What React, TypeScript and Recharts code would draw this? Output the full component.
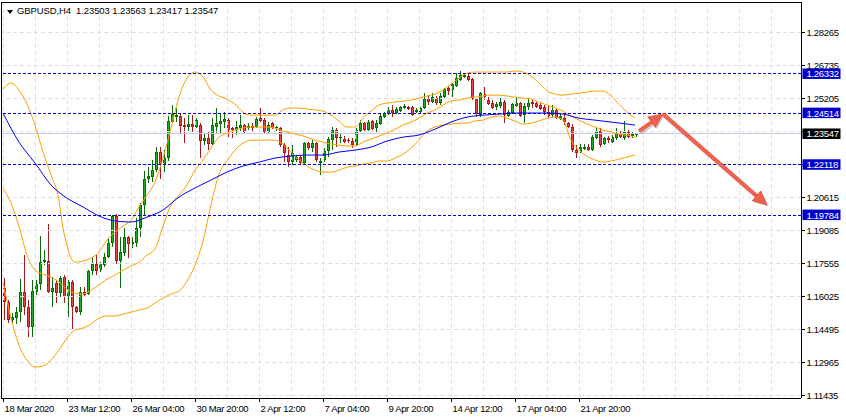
import React from 'react';
import { ComposedChart, Bar, Line, XAxis, YAxis, ReferenceLine } from 'recharts';

// GBPUSD H4 candles, one entry per bar
const opens = [
  1.1640, 1.1575, 1.1491, 1.1500, 1.1528, 1.1621, 1.1552, 1.1459, 1.1621, 1.1658,
  1.1760, 1.1765, 1.1621, 1.1663, 1.1616, 1.1691, 1.1598, 1.1668, 1.1552, 1.1528,
  1.1621, 1.1612, 1.1719, 1.1751, 1.1723, 1.1746, 1.1784, 1.1848, 1.1974, 1.1765,
  1.1802, 1.1876, 1.1844, 1.1848, 1.1918, 1.2025, 1.2145, 1.2155, 1.2187, 1.2271,
  1.2215, 1.2243, 1.2410, 1.2433, 1.2438, 1.2396, 1.2387, 1.2401, 1.2387, 1.2396,
  1.2322, 1.2336, 1.2308, 1.2387, 1.2401, 1.2410, 1.2419, 1.2382, 1.2373, 1.2382,
  1.2396, 1.2382, 1.2391, 1.2387, 1.2428, 1.2419, 1.2364, 1.2405, 1.2382, 1.2382,
  1.2303, 1.2257, 1.2224, 1.2234, 1.2248, 1.2220, 1.2312, 1.2289, 1.2312, 1.2220,
  1.2234, 1.2275, 1.2326, 1.2373, 1.2336, 1.2331, 1.2326, 1.2322, 1.2303, 1.2368,
  1.2405, 1.2373, 1.2415, 1.2382, 1.2401, 1.2433, 1.2447, 1.2466, 1.2452, 1.2461,
  1.2475, 1.2480, 1.2480, 1.2456, 1.2456, 1.2475, 1.2517, 1.2503, 1.2521, 1.2498,
  1.2526, 1.2568, 1.2558, 1.2577, 1.2605, 1.2619, 1.2623, 1.2609, 1.2517, 1.2442,
  1.2540, 1.2512, 1.2498, 1.2480, 1.2484, 1.2503, 1.2438, 1.2452, 1.2484, 1.2498,
  1.2442, 1.2480, 1.2503, 1.2498, 1.2489, 1.2480, 1.2456, 1.2442, 1.2466, 1.2424,
  1.2428, 1.2405, 1.2387, 1.2280, 1.2271, 1.2285, 1.2294, 1.2280, 1.2336, 1.2368,
  1.2308, 1.2336, 1.2317, 1.2336, 1.2359, 1.2336, 1.2364, 1.2345, 1.23503,
];
const highs = [
  1.1686, 1.1584, 1.1524, 1.1552, 1.1681, 1.1793, 1.1584, 1.1677, 1.1677, 1.1881,
  1.1816, 1.1937, 1.1691, 1.1677, 1.1695, 1.1700, 1.1677, 1.1677, 1.1556, 1.1644,
  1.1644, 1.1723, 1.1784, 1.1793, 1.1760, 1.1802, 1.1872, 1.1978, 1.1983, 1.1876,
  1.1918, 1.1881, 1.1876, 1.1964, 1.2034, 1.2182, 1.2201, 1.2234, 1.2294, 1.2294,
  1.2280, 1.2438, 1.2489, 1.2475, 1.2452, 1.2428, 1.2442, 1.2442, 1.2428, 1.2405,
  1.2359, 1.2364, 1.2428, 1.2475, 1.2452, 1.2456, 1.2428, 1.2387, 1.2415, 1.2442,
  1.2401, 1.2405, 1.2405, 1.2433, 1.2475, 1.2428, 1.2410, 1.2410, 1.2391, 1.2387,
  1.2312, 1.2294, 1.2303, 1.2257, 1.2257, 1.2317, 1.2317, 1.2326, 1.2317, 1.2243,
  1.2289, 1.2340, 1.2387, 1.2382, 1.2359, 1.2345, 1.2336, 1.2336, 1.2382, 1.2419,
  1.2410, 1.2419, 1.2419, 1.2419, 1.2452, 1.2456, 1.2480, 1.2489, 1.2480, 1.2484,
  1.2493, 1.2484, 1.2484, 1.2475, 1.2480, 1.2544, 1.2535, 1.2544, 1.2531, 1.2544,
  1.2568, 1.2577, 1.2591, 1.2637, 1.2647, 1.2637, 1.2633, 1.2614, 1.2521, 1.2549,
  1.2572, 1.2526, 1.2512, 1.2503, 1.2521, 1.2512, 1.2466, 1.2498, 1.2526, 1.2503,
  1.2498, 1.2517, 1.2521, 1.2503, 1.2498, 1.2489, 1.2489, 1.2489, 1.2475, 1.2447,
  1.2442, 1.2410, 1.2401, 1.2303, 1.2308, 1.2308, 1.2308, 1.2350, 1.2387, 1.2382,
  1.2340, 1.2345, 1.2350, 1.2382, 1.2368, 1.2415, 1.2373, 1.2364, 1.23563,
];
const lows = [
  1.1491, 1.1477, 1.1477, 1.1473, 1.1482, 1.1514, 1.1412, 1.1412, 1.1607, 1.1630,
  1.1746, 1.1616, 1.1552, 1.1570, 1.1598, 1.1570, 1.1505, 1.1445, 1.1524, 1.1514,
  1.1598, 1.1607, 1.1700, 1.1700, 1.1714, 1.1737, 1.1779, 1.1830, 1.1751, 1.1640,
  1.1788, 1.1779, 1.1825, 1.1830, 1.1876, 1.1978, 1.2127, 1.2132, 1.2178, 1.2145,
  1.2178, 1.2229, 1.2405, 1.2410, 1.2359, 1.2312, 1.2364, 1.2364, 1.2382, 1.2243,
  1.2303, 1.2280, 1.2303, 1.2359, 1.2359, 1.2382, 1.2340, 1.2336, 1.2350, 1.2364,
  1.2359, 1.2373, 1.2368, 1.2382, 1.2410, 1.2359, 1.2354, 1.2377, 1.2368, 1.2294,
  1.2224, 1.2201, 1.2210, 1.2224, 1.2210, 1.2210, 1.2280, 1.2271, 1.2224, 1.2164,
  1.2224, 1.2248, 1.2280, 1.2294, 1.2312, 1.2312, 1.2312, 1.2289, 1.2299, 1.2364,
  1.2368, 1.2368, 1.2373, 1.2364, 1.2396, 1.2428, 1.2442, 1.2433, 1.2447, 1.2456,
  1.2470, 1.2466, 1.2438, 1.2452, 1.2452, 1.2470, 1.2489, 1.2498, 1.2489, 1.2489,
  1.2521, 1.2535, 1.2526, 1.2572, 1.2600, 1.2614, 1.2600, 1.2512, 1.2433, 1.2433,
  1.2512, 1.2489, 1.2470, 1.2466, 1.2475, 1.2405, 1.2433, 1.2447, 1.2480, 1.2433,
  1.2405, 1.2466, 1.2475, 1.2475, 1.2466, 1.2442, 1.2428, 1.2433, 1.2424, 1.2419,
  1.2396, 1.2382, 1.2271, 1.2243, 1.2266, 1.2280, 1.2275, 1.2275, 1.2331, 1.2294,
  1.2303, 1.2312, 1.2312, 1.2326, 1.2336, 1.2326, 1.2336, 1.2336, 1.23417,
];
const closes = [
  1.1575, 1.1491, 1.1505, 1.1528, 1.1621, 1.1552, 1.1459, 1.1626, 1.1658, 1.1760,
  1.1770, 1.1621, 1.1640, 1.1616, 1.1686, 1.1598, 1.1668, 1.1552, 1.1528, 1.1621,
  1.1607, 1.1719, 1.1751, 1.1719, 1.1751, 1.1784, 1.1848, 1.1974, 1.1765, 1.1807,
  1.1876, 1.1844, 1.1853, 1.1918, 1.2025, 1.2145, 1.2159, 1.2187, 1.2271, 1.2210,
  1.2243, 1.2415, 1.2447, 1.2442, 1.2391, 1.2387, 1.2401, 1.2387, 1.2419, 1.2322,
  1.2336, 1.2308, 1.2396, 1.2405, 1.2415, 1.2424, 1.2373, 1.2373, 1.2387, 1.2396,
  1.2364, 1.2391, 1.2382, 1.2424, 1.2415, 1.2364, 1.2396, 1.2382, 1.2387, 1.2303,
  1.2266, 1.2224, 1.2266, 1.2248, 1.2220, 1.2312, 1.2289, 1.2312, 1.2234, 1.2229,
  1.2275, 1.2331, 1.2373, 1.2336, 1.2340, 1.2317, 1.2322, 1.2303, 1.2373, 1.2405,
  1.2373, 1.2410, 1.2377, 1.2405, 1.2438, 1.2452, 1.2466, 1.2452, 1.2470, 1.2480,
  1.2484, 1.2470, 1.2442, 1.2466, 1.2475, 1.2517, 1.2503, 1.2526, 1.2498, 1.2531,
  1.2563, 1.2554, 1.2586, 1.2614, 1.2628, 1.2628, 1.2605, 1.2517, 1.2447, 1.2544,
  1.2526, 1.2493, 1.2475, 1.2493, 1.2503, 1.2442, 1.2456, 1.2493, 1.2498, 1.2438,
  1.2484, 1.2498, 1.2493, 1.2480, 1.2470, 1.2456, 1.2438, 1.2466, 1.2428, 1.2438,
  1.2410, 1.2387, 1.2280, 1.2266, 1.2294, 1.2294, 1.2280, 1.2340, 1.2368, 1.2303,
  1.2336, 1.2326, 1.2340, 1.2359, 1.2340, 1.2364, 1.2340, 1.2354, 1.23547,
];

// Bollinger bands and moving average, read as [bar, price]
const upperBand: [number, number][] = [
  [0, 1.2563], [2, 1.2591], [4, 1.2558], [6, 1.2493], [8, 1.2396], [10, 1.2271], [12, 1.2164],
  [14, 1.2048], [15, 1.1918], [16, 1.1839], [17, 1.1779], [18, 1.1760], [20, 1.1765], [22, 1.1779],
  [24, 1.1807], [26, 1.1862], [28, 1.1900], [30, 1.1927], [32, 1.1955], [34, 1.2016], [36, 1.2071],
  [38, 1.2132], [40, 1.2243], [42, 1.2382], [44, 1.2526], [46, 1.2614], [48, 1.2642], [50, 1.2619],
  [52, 1.2558], [54, 1.2531], [56, 1.2517], [58, 1.2493], [60, 1.2456], [62, 1.2442], [66, 1.2442],
  [68, 1.2442], [70, 1.2466], [72, 1.2475], [74, 1.2475], [76, 1.2470], [78, 1.2466], [80, 1.2461],
  [82, 1.2442], [84, 1.2415], [86, 1.2387], [88, 1.2387], [90, 1.2428], [92, 1.2461], [94, 1.2489],
  [96, 1.2498], [98, 1.2503], [100, 1.2507], [102, 1.2512], [104, 1.2521], [106, 1.2531], [108, 1.2540],
  [110, 1.2558], [112, 1.2586], [114, 1.2614], [116, 1.2637], [118, 1.2642], [122, 1.2642], [126, 1.2642],
  [128, 1.2647], [130, 1.2642], [132, 1.2623], [134, 1.2591], [136, 1.2554], [138, 1.2540], [140, 1.2535],
  [142, 1.2540], [144, 1.2544], [146, 1.2549], [148, 1.2554], [150, 1.2554], [152, 1.2531], [154, 1.2493],
  [156, 1.2456], [158, 1.2428],
];
const middleBand: [number, number][] = [
  [0, 1.2104], [2, 1.2034], [4, 1.1927], [6, 1.1793], [8, 1.1723], [10, 1.1705], [12, 1.1691],
  [14, 1.1668], [16, 1.1635], [18, 1.1616], [20, 1.1612], [22, 1.1630], [24, 1.1654], [26, 1.1681],
  [28, 1.1700], [30, 1.1723], [32, 1.1742], [34, 1.1760], [36, 1.1793], [38, 1.1821], [40, 1.1927],
  [42, 1.2025], [44, 1.2071], [46, 1.2118], [48, 1.2187], [50, 1.2234], [52, 1.2289], [54, 1.2340],
  [56, 1.2359], [58, 1.2373], [60, 1.2382], [62, 1.2387], [66, 1.2387], [68, 1.2382], [70, 1.2368],
  [72, 1.2359], [74, 1.2350], [76, 1.2340], [78, 1.2326], [80, 1.2317], [82, 1.2308], [84, 1.2303],
  [86, 1.2299], [88, 1.2299], [90, 1.2317], [92, 1.2331], [94, 1.2345], [96, 1.2359], [98, 1.2377],
  [100, 1.2396], [102, 1.2410], [104, 1.2428], [106, 1.2452], [108, 1.2466], [110, 1.2489], [112, 1.2507],
  [114, 1.2512], [116, 1.2521], [118, 1.2526], [120, 1.2531], [122, 1.2535], [124, 1.2535], [126, 1.2531],
  [128, 1.2526], [130, 1.2521], [132, 1.2517], [134, 1.2503], [136, 1.2489], [138, 1.2475], [140, 1.2461],
  [142, 1.2438], [144, 1.2419], [146, 1.2401], [148, 1.2387], [150, 1.2373], [152, 1.2364], [154, 1.2354],
  [156, 1.2350], [158, 1.2340],
];
const lowerBand: [number, number][] = [
  [0, 1.1668], [2, 1.1500], [4, 1.1375], [6, 1.1306], [8, 1.1273], [10, 1.1278], [12, 1.1306],
  [14, 1.1352], [16, 1.1408], [18, 1.1445], [20, 1.1454], [22, 1.1473], [24, 1.1500], [26, 1.1510],
  [28, 1.1510], [30, 1.1519], [32, 1.1528], [34, 1.1538], [36, 1.1547], [38, 1.1570], [40, 1.1593],
  [42, 1.1612], [44, 1.1626], [46, 1.1672], [48, 1.1746], [50, 1.1858], [52, 1.2025], [54, 1.2169],
  [56, 1.2229], [58, 1.2280], [60, 1.2312], [62, 1.2326], [68, 1.2326], [70, 1.2308], [72, 1.2271],
  [74, 1.2234], [76, 1.2206], [78, 1.2187], [80, 1.2178], [82, 1.2178], [84, 1.2187], [86, 1.2201],
  [88, 1.2206], [90, 1.2215], [92, 1.2220], [94, 1.2229], [96, 1.2229], [98, 1.2243], [100, 1.2261],
  [102, 1.2289], [104, 1.2326], [106, 1.2368], [108, 1.2387], [110, 1.2396], [112, 1.2401], [114, 1.2405],
  [116, 1.2405], [118, 1.2415], [120, 1.2419], [122, 1.2433], [124, 1.2438], [126, 1.2428], [128, 1.2415],
  [130, 1.2401], [132, 1.2405], [134, 1.2415], [136, 1.2428], [138, 1.2433], [140, 1.2419], [142, 1.2326],
  [144, 1.2280], [146, 1.2252], [148, 1.2234], [150, 1.2224], [152, 1.2229], [154, 1.2238], [156, 1.2248],
  [158, 1.2257],
];
const movingAvg: [number, number][] = [
  [0, 1.2452], [4, 1.2317], [8, 1.2220], [12, 1.2118], [16, 1.2057], [20, 1.2016], [24, 1.1974],
  [28, 1.1951], [32, 1.1946], [36, 1.1969], [40, 1.2002], [44, 1.2062], [48, 1.2104], [52, 1.2141],
  [56, 1.2178], [60, 1.2206], [64, 1.2224], [68, 1.2243], [72, 1.2252], [76, 1.2257], [80, 1.2257],
  [84, 1.2271], [88, 1.2280], [92, 1.2294], [96, 1.2322], [100, 1.2340], [104, 1.2350], [108, 1.2377],
  [112, 1.2410], [116, 1.2433], [120, 1.2442], [124, 1.2447], [128, 1.2452], [132, 1.2452], [136, 1.2452],
  [140, 1.2447], [144, 1.2428], [148, 1.2419], [152, 1.2410], [156, 1.2401], [158, 1.2396],
];

const timeLabels = [
  '18 Mar 2020', '23 Mar 12:00', '26 Mar 04:00', '30 Mar 20:00', '2 Apr 12:00',
  '7 Apr 04:00', '9 Apr 20:00', '14 Apr 12:00', '17 Apr 04:00', '21 Apr 20:00',
];
const priceTicks = [
  1.11435, 1.12965, 1.14495, 1.16025, 1.17555, 1.19085,
  1.20615, 1.22145, 1.23675, 1.25205, 1.26735, 1.28265,
];
// grid levels whose labels sit under a price box in the terminal
const hiddenTickLabels = [1.22145, 1.23675];
const levels = [1.26332, 1.24514, 1.22118, 1.19784];
const lastPrice = 1.23547;
const title = 'GBPUSD,H4  1.23503 1.23563 1.23417 1.23547';
const arrowPath = [
  { bar: 159, price: 1.2368 },
  { bar: 165, price: 1.2447 },
  { bar: 191, price: 1.2025 },
];

const SLOTS = 200;
const LABEL_STEP = 16;
const GRID_STEP = 8;
const FONT = "'Liberation Sans', Arial, sans-serif";

const upMap = new Map(upperBand);
const midMap = new Map(middleBand);
const lowMap = new Map(lowerBand);
const maMap = new Map(movingAvg);

const rows = Array.from({ length: SLOTS }, (_, i) => ({
  i,
  o: opens[i],
  h: highs[i],
  l: lows[i],
  c: closes[i],
  up: upMap.get(i) ?? null,
  mid: midMap.get(i) ?? null,
  low: lowMap.get(i) ?? null,
  ma: maMap.get(i) ?? null,
}));

const Candle = (props: any) => {
  const { x, y, width, height, payload } = props;
  if (payload == null || payload.h == null) return null;
  const top = Math.min(y, y + height);
  const full = Math.abs(height);
  const span = payload.h - payload.l;
  const k = span > 0 ? full / span : 0;
  const py = (v: number) => top + (payload.h - v) * k;
  const cx = Math.round(x + width / 2);
  const bull = payload.c >= payload.o;
  const edge = bull ? '#0b6b0b' : '#a41c1c';
  const fill = bull ? '#22b022' : '#e64646';
  const b0 = Math.round(Math.min(py(payload.o), py(payload.c)));
  const b1 = Math.round(Math.max(py(payload.o), py(payload.c)));
  const bh = Math.max(b1 - b0, 1);
  return (
    <g shapeRendering="crispEdges">
      <line x1={cx + 0.5} x2={cx + 0.5} y1={top} y2={top + full} stroke={edge} strokeWidth={1} />
      <rect x={cx - 1} y={b0} width={3} height={bh} fill={edge} />
      {bh > 2 && <rect x={cx} y={b0 + 1} width={1} height={bh - 2} fill={fill} />}
    </g>
  );
};

const TimeTick = (props: any) => {
  const { x, y, payload } = props;
  const label = timeLabels[payload.value / LABEL_STEP];
  if (label === undefined) return null;
  return (
    <g>
      <line x1={x} x2={x} y1={y} y2={y + 4} stroke="#000" shapeRendering="crispEdges" />
      <text x={x + 1.5} y={y + 13.5} fontSize={9.5} fontFamily={FONT} letterSpacing={-0.35} fill="#000">
        {label}
      </text>
    </g>
  );
};

const PriceTick = (props: any) => {
  const { x, y, payload } = props;
  const v = payload.value;
  const text = v.toFixed(5);
  const isLevel = levels.includes(v);
  const isLast = v === lastPrice;
  if (isLevel || isLast) {
    return (
      <g>
        <rect x={x + 1.5} y={y - 5.5} width={38} height={10.5} fill={isLast ? '#000' : '#0000cd'} />
        <text x={x + 5.5} y={y + 3.5} fontSize={9.5} fontFamily={FONT} letterSpacing={-0.3} fill="#fff">
          {text}
        </text>
      </g>
    );
  }
  return (
    <g>
      <line x1={x} x2={x + 4} y1={y} y2={y} stroke="#000" shapeRendering="crispEdges" />
      {!hiddenTickLabels.includes(v) && (
        <text x={x + 5.5} y={y + 3.5} fontSize={9.5} fontFamily={FONT} letterSpacing={-0.3} fill="#000">
          {text}
        </text>
      )}
    </g>
  );
};

const ArrowShape = (props: any) => {
  const { x1, y1, x2, y2 } = props;
  if ([x1, y1, x2, y2].some((n) => typeof n !== 'number' || isNaN(n))) return null;
  const dx = x2 - x1;
  const dy = y2 - y1;
  const len = Math.hypot(dx, dy) || 1;
  const ux = dx / len;
  const uy = dy / len;
  const headLen = 14;
  const headW = 6.5;
  const bx = x2 - ux * headLen;
  const by = y2 - uy * headLen;
  const px = -uy;
  const py = ux;
  const pts = `${x2},${y2} ${bx + px * headW},${by + py * headW} ${bx - px * headW},${by - py * headW}`;
  return (
    <g>
      <g transform="translate(1.5,1.5)" opacity={0.35}>
        <line x1={x1} y1={y1} x2={bx} y2={by} stroke="#777" strokeWidth={4.5} />
        <polygon points={pts} fill="#777" />
      </g>
      <line x1={x1} y1={y1} x2={bx + ux * 2} y2={by + uy * 2} stroke="#f0604e" strokeWidth={4} />
      <polygon points={pts} fill="#f0604e" stroke="#e05040" strokeWidth={0.8} />
    </g>
  );
};

const timeTicks = timeLabels.map((_, k) => k * LABEL_STEP);
const gridBars = Array.from({ length: SLOTS / GRID_STEP }, (_, k) => k * GRID_STEP);
const yTicks = [...priceTicks, ...levels, lastPrice];

export default function App() {
  return (
    <div style={{ position: 'relative', width: 846, height: 419, background: '#fff' }}>
      <style>{'body{margin:0;}'}</style>
      <ComposedChart
        width={846}
        height={419}
        data={rows}
        margin={{ top: 2, right: 0, left: 1, bottom: 0 }}
        barCategoryGap={0}
      >
        <XAxis
          dataKey="i"
          type="category"
          ticks={timeTicks}
          interval={0}
          tick={<TimeTick />}
          tickLine={false}
          tickSize={0}
          tickMargin={0}
          height={21}
          axisLine={{ stroke: '#000', shapeRendering: 'crispEdges' }}
        />
        <YAxis
          orientation="right"
          type="number"
          domain={[1.11296, 1.29671]}
          allowDataOverflow
          ticks={yTicks}
          interval={0}
          tick={<PriceTick />}
          tickLine={false}
          tickSize={0}
          tickMargin={0}
          width={45}
          axisLine={{ stroke: '#000', shapeRendering: 'crispEdges' }}
        />
        {gridBars.map((b) => (
          <ReferenceLine key={`gx${b}`} x={b} stroke="#dedef2" strokeDasharray="4 3" shapeRendering="crispEdges" />
        ))}
        {priceTicks.map((t) => (
          <ReferenceLine key={`gy${t}`} y={t} stroke="#dedef2" strokeDasharray="4 3" shapeRendering="crispEdges" />
        ))}
        <ReferenceLine y={lastPrice} stroke="#c8c8dc" shapeRendering="crispEdges" />
        <Bar
          dataKey={(d: any) => (d.h == null ? null : [d.l, d.h])}
          barSize={3}
          shape={<Candle />}
          isAnimationActive={false}
        />
        <Line dataKey="up" type="monotone" stroke="#ffa000" strokeWidth={1} dot={false} activeDot={false} connectNulls isAnimationActive={false} />
        <Line dataKey="mid" type="monotone" stroke="#ffa000" strokeWidth={1} dot={false} activeDot={false} connectNulls isAnimationActive={false} />
        <Line dataKey="low" type="monotone" stroke="#ffa000" strokeWidth={1} dot={false} activeDot={false} connectNulls isAnimationActive={false} />
        <Line dataKey="ma" type="monotone" stroke="#0000ff" strokeWidth={1} dot={false} activeDot={false} connectNulls isAnimationActive={false} />
        {levels.map((lv) => (
          <ReferenceLine key={`lv${lv}`} y={lv} stroke="#0000c8" strokeDasharray="3 2" shapeRendering="crispEdges" />
        ))}
        {arrowPath.slice(1).map((p, k) => (
          <ReferenceLine
            key={`ar${k}`}
            segment={[
              { x: arrowPath[k].bar, y: arrowPath[k].price },
              { x: p.bar, y: p.price },
            ]}
            shape={ArrowShape}
          />
        ))}
      </ComposedChart>
      <div style={{ position: 'absolute', left: 1, top: 2, width: 1, height: 396, background: '#000' }} />
      <div style={{ position: 'absolute', left: 1, top: 2, width: 800, height: 1, background: '#000' }} />
      <div
        style={{
          position: 'absolute',
          left: 7,
          top: 9.5,
          width: 0,
          height: 0,
          borderLeft: '3px solid transparent',
          borderRight: '3px solid transparent',
          borderTop: '4px solid #000',
        }}
      />
      <div
        style={{
          position: 'absolute',
          left: 17,
          top: 4.5,
          fontFamily: FONT,
          fontSize: 9.5,
          lineHeight: '12px',
          letterSpacing: -0.1,
          whiteSpace: 'pre',
          color: '#000',
        }}
      >
        {title}
      </div>
    </div>
  );
}
